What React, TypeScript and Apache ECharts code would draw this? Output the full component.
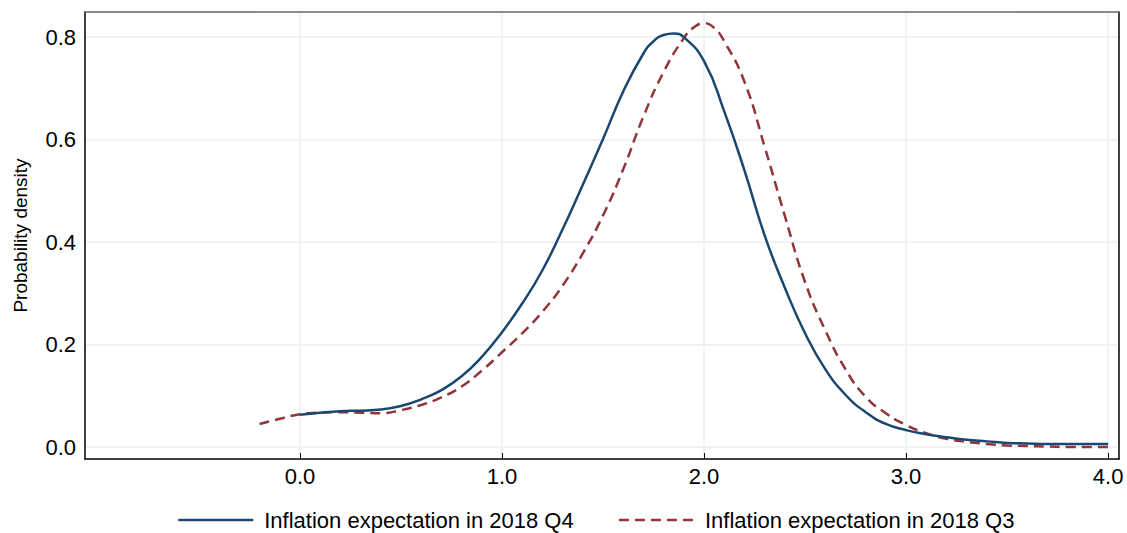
import React, { useEffect, useRef } from "react";
import * as echarts from "echarts";

const xTicks = [0, 1, 2, 3, 4];
const yTicks = [0, 0.2, 0.4, 0.6, 0.8];

const q4X = [0.0, 0.1, 0.2, 0.3, 0.4, 0.5, 0.6, 0.7, 0.8, 0.9, 1.0, 1.1, 1.2, 1.3, 1.4, 1.5, 1.6, 1.7, 1.75, 1.8, 1.85, 1.9, 2.0, 2.1, 2.2, 2.3, 2.4, 2.5, 2.6, 2.7, 2.8, 2.9, 3.0, 3.1, 3.2, 3.3, 3.4, 3.5, 3.6, 3.7, 3.8, 3.9, 4.0];
const q4Y = [0.063, 0.067, 0.07, 0.071, 0.073, 0.08, 0.093, 0.111, 0.138, 0.176, 0.224, 0.28, 0.345, 0.425, 0.512, 0.601, 0.694, 0.768, 0.792, 0.804, 0.807, 0.8, 0.753, 0.655, 0.54, 0.413, 0.311, 0.222, 0.152, 0.102, 0.068, 0.045, 0.033, 0.025, 0.019, 0.014, 0.011, 0.008, 0.007, 0.006, 0.006, 0.006, 0.006];

const q3X = [-0.2, -0.1, 0.0, 0.1, 0.2, 0.3, 0.4, 0.5, 0.6, 0.7, 0.8, 0.9, 1.0, 1.1, 1.2, 1.3, 1.4, 1.5, 1.6, 1.7, 1.8, 1.9, 1.95, 2.0, 2.05, 2.1, 2.2, 2.3, 2.4, 2.5, 2.6, 2.7, 2.8, 2.9, 3.0, 3.1, 3.2, 3.3, 3.4, 3.5, 3.6, 3.7, 3.8, 3.9, 4.0];
const q3Y = [0.045, 0.055, 0.064, 0.067, 0.068, 0.067, 0.066, 0.072, 0.082, 0.097, 0.118, 0.149, 0.185, 0.222, 0.264, 0.315, 0.378, 0.452, 0.542, 0.645, 0.732, 0.798, 0.819, 0.827, 0.818, 0.792, 0.713, 0.586, 0.451, 0.322, 0.228, 0.152, 0.098, 0.066, 0.043, 0.027, 0.016, 0.01, 0.006, 0.003, 0.002, 0.001, 0.0, 0.0, 0.0];

const seriesNames = ["Inflation expectation in 2018 Q4", "Inflation expectation in 2018 Q3"];

export default function App() {
  const ref = useRef<HTMLDivElement>(null);
  useEffect(() => {
    const chart = echarts.init(ref.current!, null, { renderer: "svg" });
    const font = "'Liberation Sans', Arial, sans-serif";
    const xMin = -1.064, xMax = 4.054, yMin = -0.0234, yMax = 0.849;
    chart.setOption({
      animation: false,
      backgroundColor: "#ffffff",
      textStyle: { fontFamily: font },
      grid: { left: 85, right: 8, top: 12, bottom: 74 },
      legend: {
        left: 177,
        top: 509,
        padding: 0,
        itemWidth: 75,
        itemHeight: 1,
        itemGap: 44,
        lineStyle: { width: 2.5 },
        textStyle: { fontSize: 22, color: "#000", fontFamily: font, padding: [0, 0, 0, 6] },
        data: seriesNames,
      },
      xAxis: [
        {
          type: "value",
          min: xMin,
          max: xMax,
          axisLine: { onZero: false, lineStyle: { color: "#000", width: 1.5 } },
          axisTick: { customValues: xTicks, inside: true, length: 6, lineStyle: { color: "#000", width: 1 } },
          axisLabel: { customValues: xTicks, fontSize: 22, color: "#000", margin: 6, formatter: (v: number) => v.toFixed(1) },
          splitLine: { show: true, lineStyle: { color: "#e8f0f2", width: 1.5 } },
        },
        {
          type: "value",
          position: "top",
          min: xMin,
          max: xMax,
          axisLine: { show: true, onZero: false, lineStyle: { color: "#666", width: 1.5 } },
          axisTick: { show: false },
          axisLabel: { show: false },
          splitLine: { show: false },
        },
      ],
      yAxis: [
        {
          type: "value",
          min: yMin,
          max: yMax,
          name: "Probability density",
          nameLocation: "middle",
          nameRotate: 90,
          nameGap: 55,
          nameTextStyle: { fontSize: 19, color: "#000", fontFamily: font },
          axisLine: { show: true, onZero: false, lineStyle: { color: "#000", width: 1.5 } },
          axisTick: { show: false, customValues: yTicks },
          axisLabel: { customValues: yTicks, fontSize: 22, color: "#000", margin: 9, formatter: (v: number) => v.toFixed(1) },
          splitLine: { show: true, lineStyle: { color: "#e8f0f2", width: 1.5 } },
        },
        {
          type: "value",
          position: "right",
          min: yMin,
          max: yMax,
          axisLine: { show: true, onZero: false, lineStyle: { color: "#000", width: 1.5 } },
          axisTick: { show: false },
          axisLabel: { show: false },
          splitLine: { show: false },
        },
      ],
      series: [
        {
          name: seriesNames[0],
          type: "line",
          data: q4X.map((x, i) => [x, q4Y[i]]),
          smooth: 0.5,
          symbol: "none",
          lineStyle: { color: "#1a476f", width: 2.5 },
          itemStyle: { color: "#1a476f" },
          z: 3,
        },
        {
          name: seriesNames[1],
          type: "line",
          data: q3X.map((x, i) => [x, q3Y[i]]),
          smooth: 0.5,
          symbol: "none",
          lineStyle: { color: "#90353b", width: 2.5, type: [10, 6] },
          itemStyle: { color: "#90353b" },
          z: 2,
        },
      ],
    });
    return () => chart.dispose();
  }, []);
  return <div ref={ref} style={{ position: "fixed", left: 0, top: 0, width: 1127, height: 533 }} />;
}
